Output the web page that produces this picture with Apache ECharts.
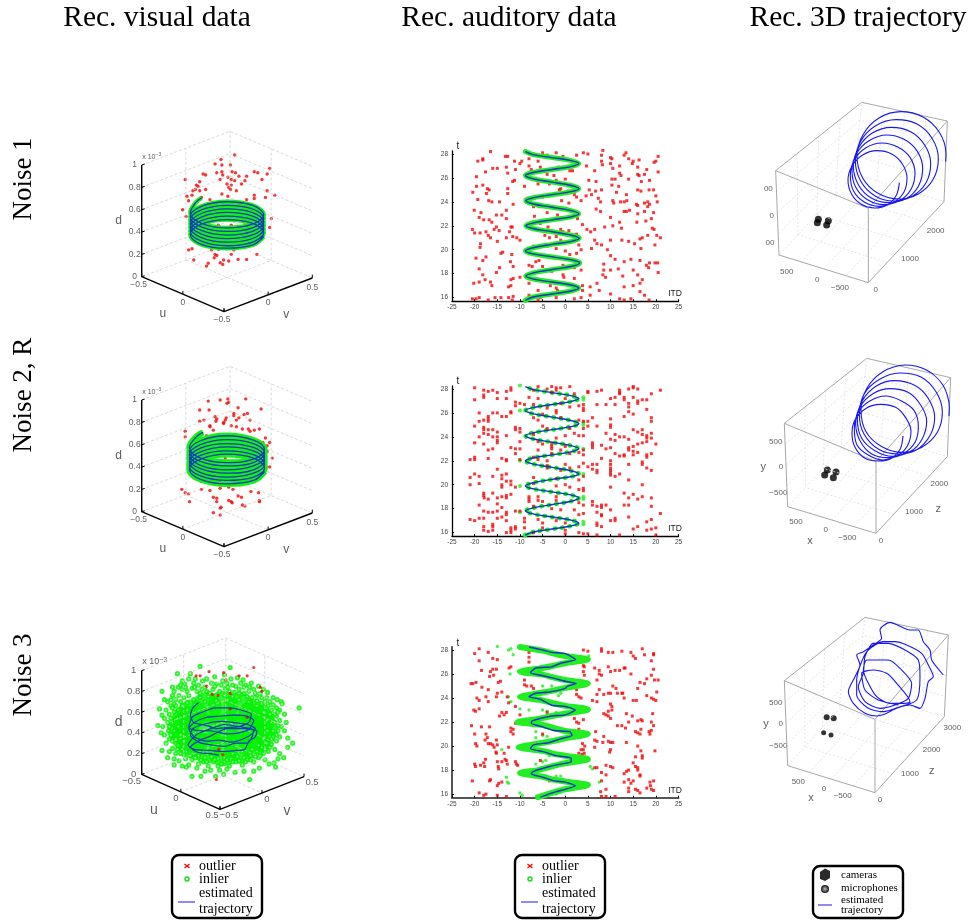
<!doctype html>
<html>
<head>
<meta charset="utf-8">
<script src="https://cdn.jsdelivr.net/npm/echarts@6/dist/echarts.min.js"></script>
<style>
html,body{margin:0;padding:0;background:#fff}
#main{width:970px;height:921px}
</style>
</head>
<body>
<div id="main"></div>
<script>
// tick labels
var itdTicks = [-25,-20,-15,-10,-5,0,5,10,15,20,25];
var tTicks = [16,18,20,22,24,26,28];
var dTicks = [0,0.2,0.4,0.6,0.8,1];
var uvTicks = [-0.5,0,0.5];

// auditory panels: [ITD, t]
var audioLine1 = [[-8.8,15.78],[-7.1,16.05],[-2.9,16.3],[1.3,16.55],[3,16.8],[1.3,17.05],[-2.9,17.3],[-7,17.55],[-8.7,17.8],[-7,18.07],[-2.8,18.35],[1.5,18.62],[3.2,18.9],[1.4,19.15],[-2.8,19.4],[-7.1,19.65],[-8.8,19.9],[-7.1,20.17],[-2.9,20.45],[1.4,20.7],[3.1,20.95],[1.3,21.22],[-2.8,21.5],[-7,21.75],[-8.7,22],[-7,22.25],[-2.9,22.5],[1.3,22.75],[3,23],[1.3,23.27],[-2.9,23.55],[-7,23.82],[-8.7,24.1],[-7,24.35],[-2.9,24.6],[1.3,24.85],[3,25.1],[1.3,25.37],[-2.9,25.65],[-7.1,25.92],[-8.8,26.2],[-7.1,26.45],[-2.9,26.7],[1.3,26.95],[3,27.2],[1.3,27.45],[-2.9,27.7],[-7.1,27.95],[-8.8,28.2]];
var audioRed1 = [[-16.5,28.2],[-18.2,27.6],[-18.2,27.5],[-19.3,27.4],[-13.2,27.8],[-12.7,27.8],[-16,26.8],[-15,26.8],[-13,26.9],[-17.6,26.5],[-12.7,26.4],[-11.2,27.4],[-9.6,27.4],[-10,27.2],[-11,26.7],[-19.6,26.1],[-19.6,25.3],[-18.2,25.4],[-20.4,24.8],[-17.2,25.1],[-16.8,25],[-17.4,24.7],[-12.7,25.1],[-12.7,24.7],[-11.2,25.8],[-11.6,25.7],[-19.3,24.2],[-16.9,24.1],[-16.2,24],[-14.5,24],[-11.5,23.8],[-13,23.3],[-20.1,23.3],[-18.6,23.1],[-14,22.9],[-15.2,22.9],[-19,22.7],[-16.8,22.5],[-18,22.5],[-16.2,22.3],[-13,22.6],[-20.5,21.7],[-20,21.4],[-18.8,21.4],[-17.5,21.5],[-17,21.2],[-15.2,21.9],[-15.7,21.7],[-14.6,21.6],[-12,21.9],[-11.7,21.9],[-12.3,21.5],[-11.6,21.1],[-13,21],[-10.7,21],[-16.5,21],[-15,20.7],[-18.7,20.5],[-18.8,20.2],[-10,20.8],[-14.2,19.7],[-13.8,19.8],[-11.8,19.6],[-19.7,19.3],[-18.2,19.1],[-17.5,19.4],[-12.1,19],[-11.5,18.6],[-19,18.4],[-14.5,18.5],[-18.2,17.9],[-17.7,17.5],[-15.2,18.1],[-20.2,17.2],[-19,17.3],[-16.5,17.3],[-16.2,17],[-12.5,16.9],[-12,17],[-12,17.5],[-11.5,17.6],[-20.5,15.9],[-19.7,15.9],[-19,16],[-17,15.8],[-15.5,16],[-14.2,16],[-12.5,16],[-11.5,16.1],[-11.7,15.8],
[-7,28],[-5,28.1],[-4,27.9],[-2,28.1],[-0.5,27.8],[2.5,27.9],[4,28.1],[-8,27.6],[-6,27.4],[-8,27],[-5.5,26.9],[-1.5,26.9],[1,26.6],[1.6,26.6],[-7.5,26.7],[-6,26.6],[-4,26.3],[-2.5,26.2],[-2,25.8],[0,25.9],[-6,25.5],[-3.5,25.5],[-9,25.3],[-1,25.1],[-1.3,25],[0.7,24.9],[2,24.6],[-6.8,24.3],[-5,24.4],[-0.8,24.1],[0.8,23.9],[3.5,24.1],[2.5,24.4],[-7,23.6],[-5.7,23.6],[-4,23.1],[-1.7,22.9],[-6.8,22.8],[-3.8,22.5],[2.7,22.6],[3.8,22.1],[-5.5,22.2],[-3.8,21.9],[-1,21.7],[-0.5,21.5],[0.8,21.6],[2.5,21.3],[-4.5,21.2],[-3.5,21],[-2,21.1],[-1,20.8],[3,20.4],[-7,20.3],[-4,20.3],[-2,20.1],[0,19.9],[1,19.6],[3.5,20],[2.5,19.7],[-5.8,19.1],[-6.5,19],[-1.5,19.3],[-0.5,18.7],[2,18.5],[3.5,18.3],[-8,18.7],[-7.3,18.6],[-5,18.6],[-3,18.2],[-0.5,17.9],[-0.3,17.7],[2,17.6],[-10,17.7],[-8,17.2],[-3.3,17],[-2,16.8],[-1.7,16.6],[3.8,17],[3.8,16.6],[-6,16.6],[-8,16.2],[-5.5,16],[-2,16],[2,15.9],[3.5,16],[-6,15.8],
[5,28],[8.3,28.3],[8,27.9],[10,27.7],[10.3,27.6],[13,27.9],[13.4,28.1],[14,27.6],[15,27.4],[16.3,27.5],[20,27.4],[20.5,27.8],[19.6,27.3],[4.7,27],[6.5,26.6],[8,27.4],[8.2,27.1],[10,27.2],[10.5,26.8],[12,27],[14.8,27.2],[16,26.9],[18,26.7],[20.5,26.5],[16,26.3],[16.3,26.2],[17.5,26.3],[12,26.4],[12.3,26.2],[10.3,25.9],[11,25.9],[14,25.9],[16.8,25.7],[18.6,25.8],[5.2,25.8],[6.8,25.7],[10.3,25.4],[11.8,25.3],[5.3,25],[6.7,24.9],[5.8,24.6],[4.6,24.5],[8,25],[11.3,24.8],[13.5,24.6],[16,25],[16.7,24.9],[18.5,25],[19.5,25],[20,24.5],[7.3,24.3],[7.8,24],[10.5,24.1],[10.7,23.9],[12.2,24],[13,24],[13.6,24.1],[15.7,23.8],[16,23.7],[17.5,23.9],[18.2,24],[18.6,23.8],[20.3,24],[6.8,23.4],[7.8,23.2],[13,23.2],[13.5,23.2],[14.2,23.3],[16,23],[17.5,23.2],[18.2,23.6],[19.5,23.1],[10,22.7],[12,22.3],[15.8,22.3],[17.8,22.4],[19,22.6],[19.6,21.7],[4.8,21.7],[6.5,21.7],[8.7,21.9],[10.5,22],[12.4,21.8],[19.2,21.8],[5.6,21.5],[16.5,20.9],[17,21],[18.2,21.2],[20.2,21.2],[21,21],[6.5,20.8],[7,20.5],[8,20.4],[10,20.8],[12.5,20.8],[14,20.7],[15.3,20.5],[16.7,20.1],[19.8,20.4],[5.8,20.1],[9.3,20],[14.5,19.2],[10,19.5],[11,19.2],[13,19],[16.5,19.1],[17.9,18.7],[18.4,18.5],[18.6,18.9],[19.8,18.9],[20.4,18.9],[8.5,18.8],[8.5,18.3],[10,18.3],[11.7,18.4],[15,18.3],[16,17.9],[20.5,18.1],[8.3,17.9],[8.9,17.7],[12.7,17.8],[17,17.5],[16.5,17.2],[7,17.2],[5.5,16.9],[7.5,16.6],[10,16.3],[13,16.9],[15,17],[16.5,16.5],[17.5,16.2],[12,15.9],[13,15.8],[14.5,15.9],[18.5,15.8],[5.5,16.2]];

var audioLine2 = [[-8.8,15.8],[-7,16.05],[-2.9,16.3],[1.2,16.55],[3,16.8],[1.2,17.05],[-2.9,17.3],[-7,17.55],[-8.8,17.8],[-7,18.07],[-2.8,18.35],[1.3,18.62],[3,18.9],[1.2,19.15],[-2.9,19.4],[-7,19.65],[-8.8,19.9],[-7,20.17],[-2.9,20.45],[1.2,20.67],[3,20.9],[1.2,21.17],[-2.9,21.45],[-7,21.72],[-8.8,22],[-7,22.25],[-2.9,22.5],[1.2,22.75],[3,23],[1.2,23.27],[-2.9,23.55],[-7,23.82],[-8.8,24.1],[-7,24.35],[-2.9,24.6],[1.2,24.85],[3,25.1],[1.2,25.37],[-2.9,25.65],[-7,25.92],[-8.8,26.2],[-7,26.45],[-2.9,26.7],[1.2,26.95],[3,27.2],[1.2,27.45],[-2.9,27.7],[-7,27.95],[-8.8,28.2]];
var audioExtra2 = [[4,27.1],[4,27.3],[4,25],[4,25.2],[4,23],[4,20.9],[4,18.8],[4,19],[4,16.7],[4,16.9],[-10,28.3],[-10,22],[-10,19.9],[-10,17.7],[-10,26.2],[-9,15.8],[-8,15.9],[-7,16.1]];
var audioRed2 = [[-20,28.1],[-18,27.9],[-17,27.8],[-16,27.9],[-15,27.7],[-13,27.8],[-12,27.9],[-12,28.1],[-18,27.5],[-18,27.3],[-20,27.1],[-15,27.2],[-13,27.2],[-11,26.9],[-10,26.8],[-11,26.6],[-9,26.7],[-12,26.1],[-12,26],[-19,26],[-16,26],[-15,26],[-14,25.7],[-13,25.7],[-17,25.7],[-17,25.5],[-19,25.3],[-18,25.4],[-17,25.3],[-20,24.9],[-18,24.8],[-18,24.6],[-17,24.6],[-16,24.6],[-15,24.4],[-18,24.3],[-11,24.8],[-11,24.6],[-10,24.7],[-10,24.4],[-17,24.2],[-13,24.1],[-19,24],[-16,24],[-15,24],[-15,23.7],[-18,23.4],[-20,23.5],[-15,23.5],[-10,23.6],[-16,23],[-17,22.9],[-12,23.1],[-11,23],[-10,23],[-11,22.6],[-20,22.3],[-20,22.1],[-21,22.1],[-17,22.2],[-14,22.2],[-13,22.1],[-13,22],[-10,22.1],[-15,21.3],[-14,20.8],[-13,20.9],[-20,20.9],[-19,20.7],[-21,20.6],[-16,20.7],[-21,20],[-19,20.1],[-14,20.5],[-13,20.3],[-12,20.3],[-14,20],[-14,19.8],[-12,20],[-11,19.8],[-18,19.3],[-18,19.1],[-17.9,18.9],[-16,19.3],[-14,19],[-13,19.1],[-12,19.2],[-15,18.9],[-13,18.9],[-17,18.8],[-15,18.4],[-19,18.3],[-14,18.1],[-18,17.8],[-17,17.7],[-16,17.7],[-15,17.8],[-13,17.7],[-13,17.5],[-11,17.8],[-10,17.8],[-15,17.2],[-14,17.3],[-20,17],[-21,17.1],[-19,17.2],[-18,17.2],[-13,17],[-16,16.7],[-16,16.5],[-18,16.5],[-18,16.2],[-17,16.1],[-16,16.2],[-13,16],[-12,16.4],[-12,16.2],[-12,16],[-11,16.5],[-11,16.3],
[-6,28.2],[-4,28],[-3,28.2],[-2,28.1],[-1,28.1],[-2,27.9],[1,28.2],[-7,27.9],[-3,27.7],[2,27.6],[-8,27.3],[-6,27.2],[-7,26.7],[0,27.2],[-1,26.8],[1,26.5],[3,26.6],[4,26.7],[4,26.4],[4,26.2],[-4,26.4],[-2,26.2],[-2,26],[-5,25.9],[-7,25.6],[-1,25.6],[4,25.3],[3,25.4],[-6,25.4],[-5,24.9],[-4,24.7],[1,24.7],[4,24.7],[2,24.3],[3,24.1],[4,24.1],[-7,24.2],[0,24.1],[-2,23.9],[-6,23.6],[-5,23.4],[-3,23.4],[-3,23.2],[-3,23],[0,23.2],[-6,22.9],[-1,22.9],[-3,22.6],[1,22.6],[4,22.9],[3,22.7],[4,22.5],[-7,22.3],[-6,22.1],[-4,22],[0,21.7],[4,21.8],[-4,21.6],[-4,21.4],[3,21.5],[1,21.4],[-1,21.2],[-7,20.6],[-2,20.5],[4,20.7],[3,20.4],[-7,20.1],[-2,19.9],[0,20],[1,19.8],[4,19.7],[4,19.5],[3,19.6],[-6,19],[-8,19],[-8,18.8],[-8,18.6],[-6,18.7],[-5,18.6],[-2,19],[-2,18.7],[3,18.5],[4,18.3],[-7,18.2],[-3,18],[-1,17.9],[2,17.9],[-9,17.2],[-9,16.9],[-6,17.1],[-2,17],[0,16.8],[4,17.6],[3,17.5],[-9,16.4],[-5,16.8],[-5,16.4],[-7,16],[0,16.2],[0,15.9],[3,16],[4,15.9],
[5,27.8],[5,27.7],[7,27.8],[8,27.9],[12,27.9],[12,27.7],[14,28],[15,28.1],[15,28.2],[16,28],[21,27.9],[19,27.6],[10,27.2],[11,27.3],[12,27.6],[13,27.3],[13,27.1],[15,27.3],[16,27],[16,26.8],[17,27.1],[18,27.1],[11,26.7],[14,26.8],[14,26.5],[7,26.7],[9,26.7],[18,26.3],[14,26.1],[15,25.9],[6,25.6],[5,25.3],[13,25.7],[19,25.6],[19,25.3],[10,25.5],[10,25],[10,24.8],[7,24.9],[5,24.9],[15,24.6],[17,24.6],[16,24.4],[9,24.3],[11,24.2],[14,23.8],[10,23.8],[11,23.7],[12,24],[13,24],[17,24.2],[18,24.1],[19,24.3],[18,23.9],[18,23.6],[19,23.9],[20,23.4],[17,23.5],[16,23.4],[6,23.5],[6,23.3],[6,23.1],[8,23.3],[9,23],[10,23.1],[14,23.1],[14,22.9],[15,23.2],[15,22.8],[16,22.7],[11,22.6],[12,22.4],[13,22.4],[13,22.5],[15,22.5],[18,22.5],[18,22.3],[19,22.6],[8,22.2],[6,21.7],[7,21.7],[5,21.5],[6,21.3],[10,22],[10,21.7],[10,21.4],[10,21.2],[10,21],[10,20.8],[11,20.7],[12,20.9],[14,21.7],[17,21.9],[17,21.7],[18,21.4],[19,21.2],[7,21.2],[7,21],[14,20.4],[17,20],[10,19.8],[13,19.3],[15,19.2],[16,18.8],[14,18.9],[17,19],[19,18.9],[6,18.6],[6,18.3],[7,18.2],[8,18.3],[8,18.1],[9,18.3],[10,17.9],[13,18.3],[14,18.3],[19,18.2],[7,17.7],[8,17.5],[8,17.4],[11,17.2],[11,17],[10,17],[14,17.3],[19,17.1],[21,17.6],[18,16.9],[19,16.3],[20,16.4],[7,16.8],[7,16.6],[8,16.5],[12,15.8],[15,16.3],[16,16.5],[18,16.2],[20,15.8],[7,15.8],[5,15.9]];

var audioLine3 = [[-5.5,15.75],[-2,16.2],[0,16.4],[2.2,16.7],[0,17],[-2.5,17.1],[-5,17.4],[-7.5,17.7],[-7,17.9],[-3.5,18.3],[-1,18.5],[1.3,18.7],[1.3,19],[-2,19.2],[-4.5,19.5],[-7.7,19.8],[-7,20.1],[-3.5,20.3],[-1,20.6],[1.5,20.9],[1,21.2],[-2.5,21.3],[-5,21.6],[-7.5,21.9],[-7.3,22.1],[-3,22.5],[0,22.6],[2.2,23],[0,23.3],[-3,23.4],[-5.5,23.9],[-8,24.1],[-6.5,24.4],[-3.5,24.5],[0,24.8],[0.5,25],[2.4,25.2],[0,25.4],[-3,25.7],[-5.5,25.9],[-7.7,26.1],[-6.5,26.5],[-3,26.6],[-1,26.9],[2.3,27.2],[0,27.7],[-3,27.8],[-5,28],[-8,28.25]];
var audioBand3 = [[-6,15.75],[-2,16.2],[0,16.4],[5,16.75],[0,17.05],[-2.5,17.2],[-5,17.45],[-10,17.75],[-6,18],[-3.5,18.25],[-1,18.5],[5,18.9],[0,19.2],[-2.5,19.35],[-5,19.6],[-10.3,19.9],[-6,20.2],[-3,20.4],[0,20.65],[5,21],[0,21.25],[-2.5,21.5],[-5,21.75],[-10.5,22],[-6,22.25],[-3,22.5],[0,22.7],[5,23.05],[0,23.35],[-2.5,23.55],[-5,23.8],[-10,24.1],[-6,24.4],[-3,24.6],[0,24.85],[5,25.2],[0,25.5],[-2.5,25.7],[-5,25.95],[-10,26.2],[-6,26.45],[-3,26.65],[0,26.9],[5,27.2],[0,27.5],[-2.5,27.7],[-5,27.95],[-10,28.25]];
var audioExtra3 = [[-12.5,28],[-12,28.1],[-11.5,27.6],[-15,28.3],[4.5,27.4],[5.2,27.5],[-12.2,26],[-5,25],[-3,25],[-1.5,24.2],[-12.5,24.1],[-12,23.7],[-10,23.1],[-5,23],[-4,22.9],[-2,22.8],[-1,22.5],[-8,23],[-5.5,22.3],[-4,20.8],[-5,20.9],[-6.5,20.7],[-6.5,21.2],[-14,19.7],[-3.5,19.2],[-4.3,18.8],[-6.5,18.5],[-5,18.7],[-13,17.4],[-12.8,17],[-2,17.5],[-1,17.5],[-12.5,16.9],[-10,16.1],[-9.5,15.9],[-2,16],[-1,16.2],[5.5,18.3],[6,18.1],[7.5,17],[-1,24.4]];
var audioRed3 = [[-19,28.1],[-20,27.7],[-17,27.8],[-19,27.1],[-16,27.3],[-15,27.2],[-12,26.6],[-12.4,26.5],[-18.5,26.3],[-16.5,26.2],[-16,26.4],[-15.2,26.4],[-15.8,25.9],[-16.7,25.8],[-14.3,25.4],[-14.8,25.3],[-19.7,25.3],[-20.4,25.2],[-20.8,25.2],[-18.4,24.9],[-17,24.7],[-15,24.4],[-14,24.5],[-15.2,24.1],[-19.5,24],[-19,23.8],[-17,23.7],[-17.5,24.1],[-12.8,24.1],[-12.5,23.6],[-11,23.3],[-20.2,23],[-19.8,22.9],[-19,23.1],[-14,22.8],[-13.5,22.6],[-13,22.8],[-14.5,22.5],[-10,22.6],[-11,21.9],[-20.7,21.7],[-18.5,21.6],[-16.7,21.6],[-12,21.5],[-11.5,21.4],[-12,21.2],[-11.5,21],[-20,21],[-17.5,21],[-17.2,20.7],[-17.7,20.5],[-15.2,20.5],[-19.8,20.2],[-17,20.2],[-16.5,20.2],[-16,20.1],[-15,20.1],[-15.7,19.9],[-15.3,19.5],[-15.2,19.4],[-19.5,20],[-12.5,19.9],[-13.5,19.4],[-17.6,18.9],[-13.3,18.9],[-13,18.8],[-12.8,18.5],[-15,18.7],[-14,18.7],[-18,18.6],[-18.7,18.4],[-20,18.5],[-19.8,18.3],[-17.8,18.3],[-14.8,18.3],[-14.7,18.1],[-11,18.7],[-10.5,18.4],[-10.8,18.5],[-20.5,17.1],[-16.5,17.2],[-16.7,17.1],[-14.7,16.9],[-14,17],[-15,16.7],[-19,16.1],[-17.5,16],[-18,15.9],[-15,15.9],[-13,15.8],
[-8,27.8],[-8,27.4],[-8,27],[4,28],[5,27.9],[-8,26.2],[4,26.7],[4.2,26.6],[4,26.2],[4.2,25.9],[-9,25.5],[-9,25.1],[-8.5,25],[-7.5,25],[-7,24.8],[4,25],[2.5,24.7],[2.5,24.3],[3,24.1],[3.5,24],[-4,22.8],[2,22.3],[2.5,22],[3,21.9],[4,22.2],[3,21.4],[-5,21],[3.8,20.2],[4.3,20],[4,19.7],[4.2,19.4],[3.5,19.7],[3,19.4],[3.7,19.3],[-5.5,18.8],[-2,16.2],[-3.5,17.1],
[8,28.1],[8,27.9],[9.5,27.8],[10.5,27.8],[12.5,27.9],[14.5,27.8],[15,27.5],[15.5,27.3],[17,28.1],[17.5,27.6],[19.5,27.7],[19.5,27.6],[19,27.1],[6.5,26.5],[7.5,26.3],[7.5,26],[8,25.9],[9.5,26.6],[10,26.2],[11,26.3],[12,26.3],[13,26.5],[13.2,26.5],[14.5,26],[18,25.6],[19,25.9],[19.5,26.4],[19.7,25.5],[20.5,25.5],[7,25.5],[10.5,25],[11.2,24.8],[16.5,25.3],[17.5,25.2],[16,24.8],[7.5,24.7],[7,24.3],[8.5,24.3],[9.5,24.4],[10,24.4],[11.5,24.4],[12.5,24.4],[13,24],[12.7,24.4],[18,24.2],[19,24],[19.5,23.9],[20.2,24.5],[20,23.8],[15,23.8],[15.7,23.8],[6,23.8],[7,23.7],[10,23.5],[10.3,23.3],[10.3,23],[9.5,22.9],[9,22.6],[10,22.3],[8.5,22.7],[9.5,22.5],[13.5,22.7],[14,22],[14.8,22.5],[16,22.1],[16.7,22.2],[17,22.1],[19.3,22.7],[19,22],[19.5,21.7],[12.5,21.7],[11.5,21.7],[13.3,21.5],[15.5,21.2],[16,21.1],[16.7,21.4],[18.5,21.2],[19,21.3],[18.7,21],[16.5,21],[6.7,21.2],[8.5,20.8],[7,20.4],[6.5,20.5],[8.3,20.3],[9.5,20.4],[10,20.3],[10.5,20.3],[13.5,20.3],[6.5,19.9],[10,19.7],[9.8,19.5],[16,20],[16.7,19.6],[19.8,19.6],[17,19.2],[17,19],[15.5,19.1],[15,18.6],[15.5,18.3],[16,18.2],[14,18],[13.5,17.9],[13,17.7],[9,18.4],[10,18.3],[10.5,18.2],[6.5,18.2],[7,18.2],[8,17.8],[9,17.6],[16,18],[16.5,17.6],[16.5,17.5],[13,17],[14,17.2],[15,17.1],[14.5,16.9],[8,17.1],[7.8,16.2],[9,16.4],[14,16.5],[15.5,16.4],[16,16.3],[16.5,16.1],[18,16.5],[18.8,16.7],[19,16.4],[19.5,16.3],[18.7,17],[19.5,17.1],[9,15.8],[8,15.8],[11,15.8],[14,16.2]];

// visual panels: [h, d], h runs from the left corner (-1) to the right corner (1) of the floor
var visLine1 = [[-.3,.705],[-.37,.66],[-.43,.57],[-.3,.478],[0,.437],[.3,.47],[.43,.554],[.3,.638],[0,.671],[-.3,.63],[-.43,.538],[-.3,.446],[0,.405],[.3,.438],[.43,.522],[.3,.606],[0,.639],[-.3,.598],[-.43,.506],[-.3,.414],[0,.373],[.3,.406],[.43,.49],[.3,.574],[0,.607],[-.3,.566],[-.43,.474],[-.3,.382],[0,.341],[.3,.374],[.43,.458],[.3,.542],[0,.575],[-.3,.534],[-.43,.442],[-.3,.35],[0,.309],[.3,.342],[.43,.426],[.3,.51],[0,.543],[-.3,.502],[-.43,.41],[-.3,.318],[0,.277],[.3,.31],[.43,.394],[.3,.478],[0,.511],[-.3,.47],[-.43,.378],[-.3,.29],[0,.255],[.3,.285],[.43,.36]];
var visRed1 = [[.09,1.09],[-.07,1.05],[-.14,1.01],[-.06,1],[.04,1],[.5,.97],[.32,.94],[.36,.93],[-.12,.93],[-.06,.94],[.06,.94],[.1,.93],[-.28,.92],[-.25,.91],[-.05,.91],[.47,.92],[.23,.9],[.14,.9],[.01,.89],[-.49,.87],[-.08,.87],[.05,.87],[.41,.87],[.09,.86],[.21,.86],[.17,.83],[0,.83],[-.32,.85],[-.36,.82],[-.34,.81],[.05,.82],[.04,.78],[-.37,.78],[-.4,.77],[-.32,.77],[-.25,.78],[.11,.77],[.02,.8],[.47,.77],[-.06,.74],[.01,.72],[-.47,.72],[-.41,.73],[.32,.73],[.23,.69],[.56,.73],[.45,.71],[.32,.7],[-.2,.69],[-.3,.71],[-.45,.68],[-.52,.6],[-.43,.6],[-.48,.54],[.52,.52],[.5,.44],[-.25,.6],[-.2,.58],[-.08,.62],[-.08,.58],[.05,.58],[.1,.56],[.18,.6],[.27,.62],[.3,.53],[-.42,.52],[-.35,.5],[-.3,.5],[-.26,.47],[-.12,.52],[0,.51],[.08,.5],[.2,.49],[.12,.45],[.2,.44],[.2,.42],[.17,.4],[.05,.46],[-.04,.44],[-.1,.46],[-.22,.43],[-.36,.42],[-.4,.38],[-.32,.36],[-.2,.37],[-.08,.38],[.03,.4],[.1,.36],[.27,.36],[.4,.4],[-.27,.28],[-.12,.31],[-.02,.3],[.1,.34],[.2,.31],[.3,.28],[-.04,.26],[.08,.24],[-.45,.24],[-.41,.25],[-.18,.24],[-.14,.2],[-.12,.19],[-.15,.17],[-.39,.15],[-.04,.15],[.02,.14],[-.08,.125],[-.05,.11],[-.22,.12],[-.24,.095],[.13,.155],[.23,.155],[.35,.2],[.05,.2],[-.1,.245]];
var visLine2 = [[-.28,.71],[-.36,.67],[-.44,.575],[-.31,.48],[0,.44],[.31,.47],[.44,.555],[.31,.64],[0,.68],[-.31,.635],[-.44,.54],[-.31,.45],[0,.41],[.31,.44],[.44,.525],[.31,.61],[0,.645],[-.31,.6],[-.44,.51],[-.31,.415],[0,.375],[.31,.41],[.44,.49],[.31,.575],[0,.61],[-.31,.57],[-.44,.475],[-.31,.385],[0,.345],[.31,.375],[.44,.46],[.31,.545],[0,.58],[-.31,.535],[-.44,.445],[-.31,.35],[0,.31],[.31,.345],[.44,.425],[.31,.51],[0,.545],[-.31,.505],[-.44,.41],[-.31,.32],[0,.28],[.31,.31],[.44,.39],[.31,.48],[0,.515],[-.31,.47],[-.44,.38],[-.31,.29],[0,.25],[.31,.28],[.44,.36]];
var visRed2 = [[-.22,.99],[-.08,1],[.01,1.01],[.02,.98],[0,.97],[.22,1.01],[.4,.92],[-.32,.91],[-.21,.91],[.13,.93],[.08,.88],[.24,.88],[.08,.86],[.2,.87],[-.14,.85],[-.12,.83],[-.32,.81],[-.27,.82],[-.01,.84],[-.02,.82],[-.13,.81],[-.04,.8],[.14,.84],[.11,.82],[.27,.82],[-.2,.76],[-.2,.77],[-.04,.79],[.05,.77],[.11,.76],[.18,.74],[.25,.74],[.32,.73],[.38,.74],[.27,.72],[-.49,.72],[-.49,.67],[-.16,.73],[-.24,.68],[-.22,.66],[-.28,.65],[-.12,.64],[-.16,.62],[-.22,.6],[-.05,.66],[.04,.66],[.08,.62],[.25,.6],[.34,.62],[.45,.66],[.42,.62],[.5,.62],[.47,.59],[.1,.58],[.2,.56],[.3,.55],[.38,.53],[.47,.54],[.53,.48],[.46,.4],[.5,.4],[-.42,.5],[-.35,.46],[-.4,.44],[-.28,.43],[-.2,.5],[-.1,.52],[-.02,.48],[.1,.44],[.2,.42],[.25,.41],[-.12,.39],[-.02,.37],[.1,.36],[.25,.34],[.37,.36],[-.42,.34],[-.35,.34],[-.28,.31],[-.12,.31],[-.05,.29],[.16,.3],[.27,.29],[-.3,.27],[-.18,.28],[-.05,.24],[.02,.22],[-.08,.21],[.15,.24],[.07,.2],[-.53,.2],[-.49,.17],[-.45,.16],[-.3,.2],[-.2,.19],[-.16,.13],[-.12,.12],[.28,.18],[.37,.17],[.38,.1],[.17,.13],[.02,.1],[-.12,.09],[.06,.08],[.05,.09],[-.44,.09],[-.07,.04],[.18,.06],[.21,.05],[-.16,-.01],[-.08,.03],[-.08,-.03],[.38,.09],[.13,.14]];
var visLine3 = [[-.3,.69],[-.37,.64],[-.4,.57],[-.36,.5],[-.2,.47],[-.08,.44],[.05,.45],[.2,.46],[.32,.5],[.35,.58],[.22,.62],[.08,.64],[-.1,.64],[-.25,.6],[-.38,.55],[-.42,.45],[-.3,.42],[-.15,.42],[.05,.39],[.2,.4],[.33,.44],[.38,.52],[.3,.56],[.12,.57],[-.05,.56],[-.2,.55],[-.35,.5],[-.42,.44],[-.35,.36],[-.2,.32],[-.05,.33],[.1,.31],[.25,.34],[.36,.39],[.4,.44],[.3,.48],[.12,.5],[-.03,.51],[-.2,.49],[-.37,.44],[-.4,.38],[-.3,.31],[-.12,.28],[.03,.27],[.15,.3],[.3,.3],[.36,.36],[.38,.43],[.2,.46],[.02,.48],[-.15,.44],[-.33,.38],[-.43,.28],[-.35,.24],[-.15,.23],[0,.22],[.16,.23],[.27,.24],[.32,.32],[.4,.36],[.42,.42],[.25,.44],[.05,.44],[-.15,.37],[-.3,.32],[-.4,.26],[-.3,.21],[-.15,.2],[-.05,.185]];
var visRed3 = [[.38,1.03],[-.28,.95],[-.33,.95],[-.17,.99],[.01,.98],[.04,.91],[.2,.95],[.3,.95],[.46,.84],[.48,.8],[-.2,.85],[-.13,.77],[-.06,.76],[.09,.78],[.09,.63],[.3,.55],[-.05,.24],[0,.19],[-.08,-.05]];
var visCore3 = [[-.5,.44],[-.38,.58],[-.38,.3],[-.2,.65],[-.2,.44],[-.2,.25],[0,.66],[0,.44],[0,.22],[.2,.65],[.2,.44],[.2,.25],[.38,.58],[.38,.3],[.5,.44],[-.45,.52],[.45,.52],[-.45,.36],[.45,.36]];
var visGreen3 = [[-.56,.97],[-.75,.8],[-.28,1.04],[.09,1.03],[.94,.64],[.72,.7],[.73,.68],[.8,.35],[.8,.26],[.75,.16],[.63,.11],[.57,.1],[.65,.07],[.33,-.05],[.01,0],[-.27,-.02],[-.38,-.02],[-.09,-.02],[-.75,.57],[-.76,.4],[-.75,.23],[-.6,.15],[-.5,.2],
[-.5,.9],[-.47,.87],[-.42,.92],[-.36,.88],[-.3,.86],[-.25,.9],[-.2,.92],[-.14,.88],[-.08,.87],[0,.9],[.05,.88],[.1,.92],[.16,.85],[.22,.88],[.28,.86],[-.55,.84],[-.5,.82],[-.44,.8],[-.38,.83],[-.32,.8],[-.26,.82],[-.2,.8],[-.12,.82],[-.04,.8],[.03,.83],[.08,.8],[.14,.79],[.2,.82],[.26,.78],[.32,.8],[.38,.82],[.42,.76],[.48,.74],[-.62,.76],[-.58,.72],[-.54,.76],[-.48,.74],[-.42,.76],[.54,.74],[.58,.7],[.62,.67],[.66,.64],[.7,.62],[.66,.56],[.7,.52],[.72,.46],[.68,.42],[.7,.36],[.66,.32],[.6,.29],[.64,.24],[.56,.22],[.5,.2],[.52,.14],[.44,.16],[.38,.12],[.3,.14],[.24,.09],[.16,.12],[.08,.08],[.02,.12],[-.06,.08],[-.12,.12],[-.18,.08],[-.24,.12],[-.3,.1],[-.38,.14],[-.42,.09],[-.46,.15],[-.54,.13],[-.58,.2],[-.62,.25],[-.66,.22],[-.7,.3],[-.66,.34],[-.72,.38],[-.67,.42],[-.74,.46],[-.68,.5],[-.72,.54],[-.66,.58],[-.7,.62],[-.64,.66],[-.68,.7],[-.6,.68],
[-.6,.6],[-.62,.5],[-.6,.42],[-.58,.34],[-.55,.28],[-.5,.24],[-.45,.22],[-.38,.2],[-.3,.18],[-.22,.16],[-.14,.17],[-.06,.15],[.02,.16],[.1,.15],[.18,.17],[.26,.16],[.34,.18],[.42,.22],[.48,.26],[.54,.3],[.58,.36],[.62,.42],[.6,.5],[.58,.58],[.54,.64],[.48,.68],[.42,.71],[.36,.74],[.3,.75],[.22,.77],[.12,.75],[.02,.76],[-.08,.76],[-.18,.75],[-.28,.74],[-.36,.72],[-.44,.69],[-.5,.66],[-.55,.62],[-.56,.54],[-.55,.46],[-.52,.38],[-.48,.32],[-.42,.27],[-.34,.24],[-.24,.21],[-.12,.2],[0,.2],[.12,.2],[.24,.22],[.36,.24],[.44,.28],[.5,.34],[.55,.42],[.54,.52],[.5,.6],[.42,.66],[.32,.7],[.2,.72],[.06,.72],[-.08,.71],[-.22,.7],[-.34,.67],[-.44,.62],
[.02,.96],[-.1,.94],[.18,.93],[.25,.91],[.35,.88],[.44,.85],[.5,.82],[.55,.79],[.62,.74],[.67,.72],[.76,.58],[.78,.5],[.76,.42],[.86,.3],[.7,.2],[.68,.15],[.45,.06],[.38,.03],[.26,.03],[.15,.02],[.05,.05],[-.04,.04],[-.15,.04],[-.22,.03],[-.32,.06],[-.45,.07],[-.5,.08],[-.6,.09],[-.68,.16],[-.8,.47],[-.78,.63],[-.72,.72],[-.62,.84],[-.4,.97],[-.34,.92],
[-.64,.72],[-.6,.8],[-.52,.86],[-.46,.84],[-.35,.84],[-.28,.78],[-.22,.84],[-.16,.78],[-.1,.85],[-.02,.86],[.06,.84],[.12,.86],[.2,.78],[.26,.84],[.33,.84],[.4,.78],[.46,.78],[.52,.7],[.56,.66],[.6,.62],[.64,.58],[.68,.6],[.64,.5],[.68,.47],[.66,.38],[.62,.36],[.6,.34],[.58,.26],[.52,.24],[.46,.18],[.4,.17],[.34,.14],[.28,.12],[.2,.13],[.12,.12],[.05,.14],[-.02,.1],[-.1,.14],[-.2,.12],[-.27,.14],[-.34,.16],[-.4,.18],[-.48,.19],[-.52,.2],[-.56,.24],[-.62,.32],[-.64,.38],[-.66,.46],[-.64,.54],[-.62,.64],[-.58,.66],[-.52,.7]];
var green3 = '#00f000';

// 3D trajectory panels: [a, b] read on the view plane of each box
var trajLine1 = [[478,278],[469,316],[442,345],[404,354],[364,343],[335,313],[324,271],[336,228],[368,195],[411,182],[455,192],[487,222],[501,264],[492,306],[461,337],[418,349],[374,337],[341,304],[331,256],[343,209],[378,173],[425,159],[473,171],[510,202],[525,249],[514,296],[480,331],[432,344],[384,330],[348,293],[336,242],[350,190],[387,152],[440,135],[492,148],[532,184],[548,235],[536,287],[500,325],[447,338],[394,324],[355,284],[340,228],[357,171],[397,129],[454,112],[512,125],[554,165],[572,220],[559,277],[518,318],[461,333],[404,317],[362,273],[346,213],[363,152],[407,107],[468,89],[531,102],[577,146],[595,206],[580,267],[536,311],[476,327],[414,310],[368,264],[351,199],[369,134],[417,84],[483,65],[549,81],[598,127],[618,192],[617,215]];
var trajLine2 = [[489,258],[481,296],[452,326],[416,333],[375,325],[345,292],[336,250],[346,208],[380,174],[421,163],[467,172],[497,203],[513,243],[502,288],[473,316],[428,330],[386,316],[351,285],[343,235],[355,187],[388,154],[437,138],[483,152],[522,181],[535,229],[526,275],[490,311],[444,323],[394,311],[360,272],[347,222],[360,170],[399,131],[450,116],[504,127],[542,165],[560,214],[546,268],[512,304],[457,319],[406,303],[365,265],[352,207],[367,152],[409,108],[464,92],[524,106],[564,144],[584,201],[571,255],[530,299],[473,312],[416,298],[372,252],[358,194],[373,131],[419,88],[478,69],[543,81],[589,127],[607,186],[592,247],[548,290],[488,307],[426,290],[378,245],[363,179],[381,114],[429,65],[495,45],[561,61],[610,107],[628,172],[627,198]];
var trajLine3 = [[610,195],[575,150],[570,120],[550,95],[535,60],[510,60],[450,37],[420,60],[425,85],[400,105],[370,125],[350,135],[360,165],[345,200],[325,245],[340,280],[375,310],[410,318],[435,312],[470,295],[510,285],[540,295],[555,265],[565,215],[580,200],[565,165],[545,130],[500,105],[465,95],[430,95],[385,120],[365,155],[350,210],[350,255],[385,295],[430,305],[480,290],[530,270],[540,200],[535,150],[495,120],[445,100],[400,100],[375,140],[370,190],[355,230],[375,275],[420,295],[465,285],[505,265],[515,220],[480,175],[445,150],[415,150],[380,150],[370,180],[385,220],[410,260],[450,280],[490,280],[510,275],[470,220],[440,190],[400,180],[365,190],[375,240],[415,270],[475,285]];
var cams1 = [[235,388],[232,398],[265,392],[260,405]];
var cams2 = [[262,360],[254,375],[288,366],[280,383]];
var camsBig3 = [[260,322],[281,325]];
var camsSmall3 = [[251,368],[273,375]];

var SANS = '"Liberation Sans",Arial,sans-serif';
var SERIF = '"Liberation Serif",serif';
var grids = [], xAxes = [], yAxes = [], series = [];

function addHiddenGrid(left, top, w, h, xr, yr, inv) {
    grids.push({left: left, top: top, width: w, height: h, containLabel: false});
    xAxes.push({type: 'value', gridIndex: grids.length - 1, min: xr[0], max: xr[1], show: false});
    yAxes.push({type: 'value', gridIndex: grids.length - 1, min: yr[0], max: yr[1], show: false, inverse: !!inv});
    return grids.length - 1;
}
function addLine(g, data, color, width, extra) {
    var s = {type: 'line', xAxisIndex: g, yAxisIndex: g, data: data, symbol: 'none', clip: false, silent: true,
        animation: false, lineStyle: {color: color, width: width}};
    for (var k in extra) { s[k] = extra[k]; }
    series.push(s);
}
function addDots(g, data, symbol, size, color, extra) {
    var s = {type: 'scatter', xAxisIndex: g, yAxisIndex: g, data: data, symbol: symbol, symbolSize: size, clip: false,
        silent: true, animation: false, itemStyle: {color: color}};
    for (var k in extra) { s[k] = extra[k]; }
    series.push(s);
}
function addLabels(g, items) {
    // items: [a, b, text, fontSize, dx, dy, color]
    series.push({type: 'scatter', xAxisIndex: g, yAxisIndex: g, symbolSize: 1, clip: false, silent: true, animation: false,
        itemStyle: {color: 'transparent'},
        data: items.map(function (p) {
            return {value: [p[0], p[1]], label: {show: true, position: 'inside', formatter: p[2], fontFamily: SANS,
                fontSize: p[3], color: p[6] || '#333', offset: [p[4] || 0, p[5] || 0]}};
        })});
}

// ---------- auditory panels
function audioPanel(top, red, line, opt) {
    grids.push({left: 452, top: top, width: 226.5, height: opt.h, containLabel: false});
    var g = grids.length - 1;
    xAxes.push({type: 'value', gridIndex: g, min: -25, max: 25, interval: 5, splitLine: {show: false},
        axisLine: {onZero: false, lineStyle: {color: opt.axis, width: opt.axisW}},
        axisTick: {inside: true, length: 2, lineStyle: {color: '#000'}},
        axisLabel: {fontFamily: SANS, fontSize: 6.5, color: '#444', margin: 3, customValues: itdTicks}});
    yAxes.push({type: 'value', gridIndex: g, min: 15.7, max: 28.25, splitLine: {show: false},
        axisLine: {onZero: false, lineStyle: {color: opt.axis, width: opt.axisW}},
        axisTick: {inside: true, length: 2, lineStyle: {color: '#000'}, customValues: tTicks},
        axisLabel: {fontFamily: SANS, fontSize: 6.5, color: '#444', margin: 4, customValues: tTicks}});
    if (opt.band) { addLine(g, opt.band, '#22ee22', opt.bandW, {smooth: opt.bandSmooth, lineStyle: {color: '#22ee22', width: opt.bandW, cap: 'round', join: 'round'}}); }
    if (opt.extra) { addDots(g, opt.extra, 'circle', opt.extraS, '#22ee22'); }
    addLine(g, line, '#1030d0', 1.4, {smooth: opt.smooth});
    addDots(g, red, 'rect', 3, '#f00808');
    return g;
}

// ---------- visual panels
function visualPanel(p) {
    var W = p.A[0] + p.B[0];
    var g = addHiddenGrid(p.ox, p.oy - 1.5 * p.dH, W, 2 * p.dH, [-1, 1], [-0.5, 1.5]);
    function view(u, v, d) {
        var h = ((u + .5) * p.A[0] + (v + .5) * p.B[0]) / W * 2 - 1;
        return [h, d - ((u + .5) * p.A[1] + (v + .5) * p.B[1]) / p.dH];
    }
    var gap = [NaN, NaN], dash = [];
    dTicks.forEach(function (d) {
        dash.push(view(-.5, -.5, d), view(-.5, .5, d), view(.5, .5, d), gap);
    });
    dash.push(view(-.5, 0, 0), view(.5, 0, 0), gap, view(0, -.5, 0), view(0, .5, 0), gap);
    dash.push(view(-.5, .5, 0), view(-.5, .5, 1), gap, view(-.5, 0, 0), view(-.5, 0, 1), gap, view(0, .5, 0), view(0, .5, 1), gap);
    addLine(g, dash, '#cfcfcf', 0.8, {lineStyle: {color: '#cfcfcf', width: 0.8, type: [3, 2]}});
    var tick = [];
    dTicks.forEach(function (d) {
        var a = view(-.5, -.5, d); tick.push(a, [a[0] + 0.035, a[1] + 0.008], gap);
    });
    uvTicks.forEach(function (t) {
        var a = view(t, -.5, 0); tick.push(a, [a[0], a[1] + 0.03], gap);
        a = view(.5, t, 0); tick.push(a, [a[0], a[1] + 0.03], gap);
    });
    var frame = [view(-.5, -.5, 1), view(-.5, -.5, 0), view(.5, -.5, 0), view(.5, .5, 0)];
    addLine(g, frame, p.axisColor, p.axisW);
    addLine(g, tick, '#000', 1);
    if (p.core) { addDots(g, p.core, 'circle', p.coreS, green3); }
    if (p.cloud) { addDots(g, p.cloud, 'emptyCircle', 3.2, green3, {itemStyle: {color: green3, borderColor: green3, borderWidth: 0.9}}); }
    if (p.greenW) { addLine(g, p.line, '#14f014', p.greenW, {smooth: 0.4, lineStyle: {color: '#14f014', width: p.greenW, join: 'round'}}); }
    addLine(g, p.line, '#1038c0', p.blueW, {smooth: p.smooth});
    addDots(g, p.red, 'circle', p.redS, '#f00808');
    var f = p.font, lab = [];
    dTicks.forEach(function (d) {
        var a = view(-.5, -.5, d);
        lab.push([a[0], a[1], String(d), f, -p.dLabX, 0]);
    });
    uvTicks.forEach(function (t, i) {
        var a = view(t, -.5, 0);
        if (p.uOff[i]) { lab.push([a[0], a[1], String(t).replace('-', '\u2212'), f, p.uOff[i][0], p.uOff[i][1]]); }
        a = view(.5, t, 0);
        lab.push([a[0], a[1], String(t).replace('-', '\u2212'), f, p.vOff[i][0], p.vOff[i][1]]);
    });
    var c = view(0, -.5, 0); lab.push([c[0], c[1], 'u', p.nameF, p.uName[0], p.uName[1]]);
    c = view(.5, 0, 0); lab.push([c[0], c[1], 'v', p.nameF, p.vName[0], p.vName[1]]);
    c = view(-.5, -.5, .5); lab.push([c[0], c[1], 'd', p.nameF, p.dName, 0]);
    addLabels(g, lab);
    series.push({type: 'scatter', xAxisIndex: g, yAxisIndex: g, symbolSize: 1, clip: false, silent: true, animation: false,
        itemStyle: {color: 'transparent'},
        data: [{value: view(-.5, -.5, 1), label: {show: true, position: 'inside', offset: p.expOff,
            formatter: '{a|x 10}{b|\u22123}', rich: {a: {fontFamily: SANS, fontSize: p.expF, color: '#333'},
            b: {fontFamily: SANS, fontSize: p.expF - 2, color: '#333', verticalAlign: 'top', padding: [0, 0, 4, 0]}}}}]});
}

// ---------- trajectory panels
function trajPanel(p) {
    var g = addHiddenGrid(p.left, p.top, 230, 210, [0, 690], [0, 630], true);
    var c = p.c, gap = [NaN, NaN];
    var bb = [c.lb[0] + c.rb[0] - c.fb[0], c.lb[1] + c.rb[1] - c.fb[1]];
    function mix(a, b, t) { return [a[0] + (b[0] - a[0]) * t, a[1] + (b[1] - a[1]) * t]; }
    var dash = [];
    [.25, .5, .75].forEach(function (t) {
        dash.push(mix(c.lb, c.fb, t), mix(bb, c.rb, t), gap);
        dash.push(mix(c.fb, c.rb, t), mix(c.lb, bb, t), gap);
        dash.push(mix(c.lt, c.bt, t), mix(c.lb, bb, t), gap);
        dash.push(mix(c.bt, c.rt, t), mix(bb, c.rb, t), gap);
        dash.push(mix(c.lb, c.lt, t), mix(bb, c.bt, t), mix(c.rb, c.rt, t), gap);
    });
    dash.push(bb, c.bt, gap, bb, c.lb, gap, bb, c.rb, gap);
    addLine(g, dash, '#dedede', 0.8, {lineStyle: {color: '#dedede', width: 0.8, type: [2, 2]}});
    var box = [c.lt, c.bt, c.rt, c.ft, c.lt, c.lb, c.fb, c.rb, c.rt, gap, c.ft, c.fb];
    addLine(g, box, '#a8a8a8', 1);
    addLine(g, p.line, '#1818f0', 1.1, {smooth: p.smooth});
    p.cams.forEach(function (cs) { addDots(g, cs[0], 'circle', cs[1], '#000'); });
    addLabels(g, p.labels);
}

audioPanel(151, audioRed1, audioLine1, {h: 150.2, axis: '#000', axisW: 1.3, band: audioLine1, bandW: 5, bandSmooth: 0.4, smooth: 0.4});
audioPanel(386, audioRed2, audioLine2, {h: 150.2, axis: '#000', axisW: 1.3, extra: audioExtra2, extraS: 4, smooth: 0.4});
// dotted inliers along the second trajectory
addLine(grids.length - 1, audioLine2, '#14f014', 4.5, {smooth: 0.4, lineStyle: {color: '#14f014', width: 4.5, cap: 'round', type: [0.5, 7]}, z: 1});
audioPanel(647, audioRed3, audioLine3, {h: 150.7, axis: '#555', axisW: 2, band: audioBand3, bandW: 6, bandSmooth: 0.25, extra: audioExtra3, extraS: 3.4, smooth: 0.2});

visualPanel({ox: 141.7, oy: 276.7, A: [82.3, 35], B: [88.3, -33.7], dH: 111.7, font: 8.5, nameF: 12, line: visLine1, red: visRed1, redS: 3.4, greenW: 4.5, blueW: 1.3, smooth: 0.4,
    axisColor: '#000', axisW: 1.4, dLabX: 7, uOff: [[-3, 8], [0, 8], null], vOff: [[-2, 8], [0, 8], [0, 10]], uName: [-20, 19], vName: [18, 20], dName: -23, expOff: [10, -8], expF: 7});
visualPanel({ox: 141.7, oy: 511.7, A: [82.3, 35], B: [88.3, -33.7], dH: 111.7, font: 8.5, nameF: 12, line: visLine2, red: visRed2, redS: 3.4, greenW: 6.5, blueW: 1.3, smooth: 0.4,
    axisColor: '#000', axisW: 1.4, dLabX: 7, uOff: [[-3, 8], [0, 8], null], vOff: [[-2, 8], [0, 8], [0, 10]], uName: [-20, 19], vName: [18, 20], dName: -23, expOff: [10, -8], expF: 7});
visualPanel({ox: 141.7, oy: 774.3, A: [78.3, 35], B: [84, -32.6], dH: 103.7, font: 9.5, nameF: 14, line: visLine3, red: visRed3, redS: 3.2, blueW: 1.2, smooth: 0.2, core: visCore3, coreS: 30, cloud: visGreen3,
    axisColor: '#000', axisW: 1.4, dLabX: 8, uOff: [[-10, 7], [-5, 7], [-8, 6]], vOff: [[9, 6], [5, 6], [8, 6]], uName: [-27, 18], vName: [25, 18], dName: -23, expOff: [13, -9], expF: 9});

trajPanel({left: 740, top: 90, line: trajLine1, smooth: 0.35, cams: [[cams1, 7]],
    c: {lt: [107, 242], bt: [365, 37], rt: [622, 93], ft: [385, 355], lb: [117, 495], fb: [385, 578], rb: [612, 335]},
    labels: [[85, 297, '00', 8], [95, 378, '0', 8], [90, 457, '00', 8], [140, 545, '500', 8], [232, 570, '0', 8], [300, 593, '\u2212500', 8], [407, 598, '0', 8], [510, 507, '1000', 8], [587, 423, '2000', 8]]});
trajPanel({left: 740, top: 350, line: trajLine2, smooth: 0.3, cams: [[cams2, 7]],
    c: {lt: [133, 220], bt: [380, 25], rt: [632, 83], ft: [408, 335], lb: [143, 470], fb: [408, 550], rb: [622, 320]},
    labels: [[107, 275, '500', 8], [123, 351, '0', 8], [115, 427, '\u2212500', 8], [70, 352, 'y', 11], [168, 515, '500', 8], [257, 540, '0', 8], [322, 562, '\u2212500', 8], [210, 573, 'x', 11], [423, 573, '0', 8], [522, 484, '1000', 8], [598, 402, '2000', 8], [595, 478, 'z', 11]]});
trajPanel({left: 740, top: 610, line: trajLine3, smooth: 0.25, cams: [[camsBig3, 6], [camsSmall3, 5]],
    c: {lt: [133, 212], bt: [375, 22], rt: [625, 75], ft: [405, 328], lb: [143, 467], fb: [405, 548], rb: [613, 320]},
    labels: [[107, 277, '500', 8], [122, 342, '0', 8], [115, 408, '\u2212500', 8], [78, 343, 'y', 11], [175, 515, '500', 8], [252, 537, '0', 8], [308, 557, '\u2212500', 8], [213, 565, 'x', 11], [420, 570, '0', 8], [510, 492, '1000', 8], [575, 420, '2000', 8], [637, 353, '3000', 8], [575, 484, 'z', 11]]});

// ---------- titles, row labels, legends
var g = [];
function text(x, y, s, size, opt) {
    opt = opt || {};
    g.push({type: 'text', x: x, y: y, rotation: opt.rot || 0, silent: true, z: 10,
        style: {text: s, fontFamily: opt.font || SERIF, fontSize: size, fill: opt.fill || '#000',
            textAlign: opt.align || 'center', textVerticalAlign: 'middle'}});
}
text(157, 18, 'Rec. visual data', 29.5);
text(509, 18, 'Rec. auditory data', 29.5);
text(858, 18, 'Rec. 3D trajectory', 29.5);
text(24, 179, 'Noise 1', 27, {rot: Math.PI / 2});
text(24, 395, 'Noise 2, R', 27, {rot: Math.PI / 2});
text(24, 675, 'Noise 3', 27, {rot: Math.PI / 2});
[146, 381, 643].forEach(function (y) { text(458, y, 't', 10, {font: SANS, fill: '#222'}); });
text(675, 294, 'ITD', 8.5, {font: SANS, fill: '#222'});
text(675, 529, 'ITD', 8.5, {font: SANS, fill: '#222'});
text(675, 791, 'ITD', 8.5, {font: SANS, fill: '#222'});

function box(x, y, w, h) {
    g.push({type: 'rect', silent: true, z: 9, shape: {x: x, y: y, width: w, height: h, r: 7},
        style: {fill: '#fff', stroke: '#000', lineWidth: 2.4}});
}
function key(x, y) {
    box(x, y, 90, 63);
    g.push({type: 'polyline', silent: true, z: 10, shape: {points: [[x + 12.5, y + 9], [x + 17.5, y + 13]]}, style: {stroke: '#f00', lineWidth: 1.2}});
    g.push({type: 'polyline', silent: true, z: 10, shape: {points: [[x + 12.5, y + 13], [x + 17.5, y + 9]]}, style: {stroke: '#f00', lineWidth: 1.2}});
    g.push({type: 'circle', silent: true, z: 10, shape: {cx: x + 15, cy: y + 24, r: 2}, style: {fill: '#fff', stroke: '#10e010', lineWidth: 1.4}});
    g.push({type: 'line', silent: true, z: 10, shape: {x1: x + 6, y1: y + 47, x2: x + 23, y2: y + 47}, style: {stroke: '#5a5aff', lineWidth: 1.4}});
    text(x + 27, y + 11, 'outlier', 14, {align: 'left'});
    text(x + 27, y + 24, 'inlier', 14, {align: 'left'});
    text(x + 27, y + 38, 'estimated', 14, {align: 'left'});
    text(x + 27, y + 54, 'trajectory', 14, {align: 'left'});
}
key(172, 855);
key(515, 855);
box(813, 866, 90, 52);
g.push({type: 'polygon', silent: true, z: 10, shape: {points: [[820, 872], [825, 868.5], [830, 871], [830, 878], [825, 881], [820, 879]]}, style: {fill: '#2a2a2a'}});
g.push({type: 'circle', silent: true, z: 10, shape: {cx: 825, cy: 889, r: 4}, style: {fill: new echarts.graphic.RadialGradient(0.5, 0.5, 0.5, [{offset: 0, color: '#bbb'}, {offset: 1, color: '#111'}])}});
g.push({type: 'line', silent: true, z: 10, shape: {x1: 818, y1: 905, x2: 832, y2: 905}, style: {stroke: '#5a5aff', lineWidth: 1.4}});
text(841, 875, 'cameras', 11, {align: 'left'});
text(841, 888, 'microphones', 11, {align: 'left'});
text(841, 900, 'estimated', 11, {align: 'left'});
text(841, 910, 'trajectory', 11, {align: 'left'});

var chart = echarts.init(document.getElementById('main'), null, {renderer: 'canvas'});
chart.setOption({animation: false, backgroundColor: '#fff', grid: grids, xAxis: xAxes, yAxis: yAxes, series: series, graphic: g});
</script>
</body>
</html>
